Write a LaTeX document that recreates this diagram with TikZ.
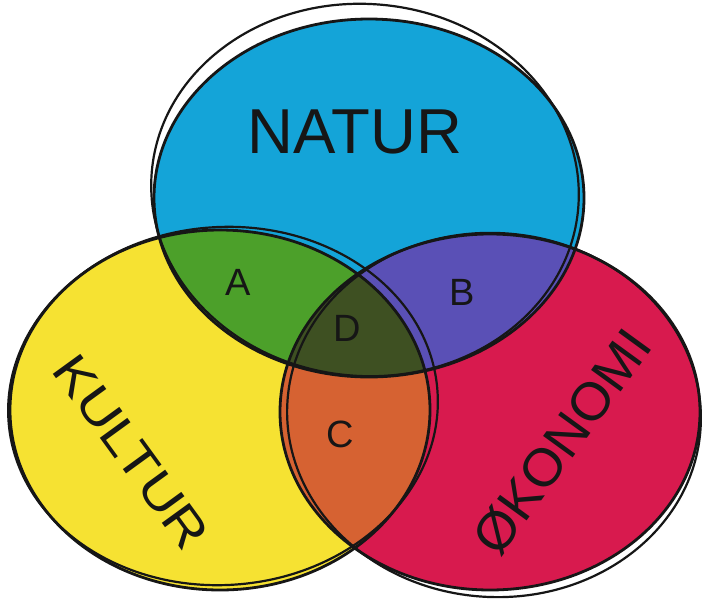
\documentclass[tikz,border=0pt]{standalone}
\usepackage{fontspec}
\setmainfont{Liberation Sans}
\usepackage{graphicx}
\definecolor{blueC}{RGB}{20,164,216}
\definecolor{yellowC}{RGB}{246,226,50}
\definecolor{redC}{RGB}{216,26,78}
\definecolor{greenC}{RGB}{76,160,42}
\definecolor{purpleC}{RGB}{90,80,182}
\definecolor{orangeC}{RGB}{214,98,50}
\definecolor{darkC}{RGB}{62,80,34}
\definecolor{inkC}{RGB}{22,22,22}
\begin{document}
\begin{tikzpicture}[x=1pt,y=-1pt,
  pen/.style={draw=inkC,line width=2.8pt},
  pen2/.style={draw=inkC,line width=2.2pt},
  lab/.style={text=inkC,inner sep=0pt},
  small/.style={text=inkC,inner sep=0pt,font=\fontsize{38}{42}\selectfont}]
\useasboundingbox (0,0) rectangle (702,598);
\fill[white] (0,0) rectangle (702,598);
\def\natpath{(369,198) ellipse [x radius=215, y radius=179]}
\def\kulpath{(220,410) ellipse [x radius=210, y radius=180]}
\def\okopath{(490,412) ellipse [x radius=210, y radius=178]}
% fills
\fill[blueC] \natpath;
\fill[yellowC] \kulpath;
\fill[redC] \okopath;
\begin{scope}
  \clip \natpath;
  \fill[greenC] \kulpath;
  \fill[purpleC] \okopath;
\end{scope}
\begin{scope}
  \clip \kulpath;
  \fill[orangeC] \okopath;
\end{scope}
\begin{scope}
  \clip \natpath;
  \clip \kulpath;
  \fill[darkC] \okopath;
\end{scope}
% outlines (double hand-drawn strokes)
\draw[pen] \natpath;
\draw[pen2, rotate around={-5:(365,190)}] (365,190) ellipse [x radius=214, y radius=186];
\draw[pen] \kulpath;
\draw[pen2, rotate around={4:(223,406)}] (223,406) ellipse [x radius=215, y radius=179];
\draw[pen] \okopath;
\draw[pen2, rotate around={-4:(494,415)}] (494,415) ellipse [x radius=207, y radius=182];
% labels
\node[lab] (natur) at (355,132) {\resizebox{214pt}{!}{NATUR}};
\node[lab, rotate=-54] (kultur) at (131,452) {\resizebox{227pt}{34pt}{KULTUR}};
\node[lab, rotate=54] (okonomi) at (562,442) {\resizebox{262pt}{38pt}{ØKONOMI}};
\node[small] (a) at (238,282) {A};
\node[small] (b) at (462,292) {B};
\node[small] (d) at (347,328) {D};
\node[small] (c) at (340,434) {C};
\end{tikzpicture}
\end{document}
